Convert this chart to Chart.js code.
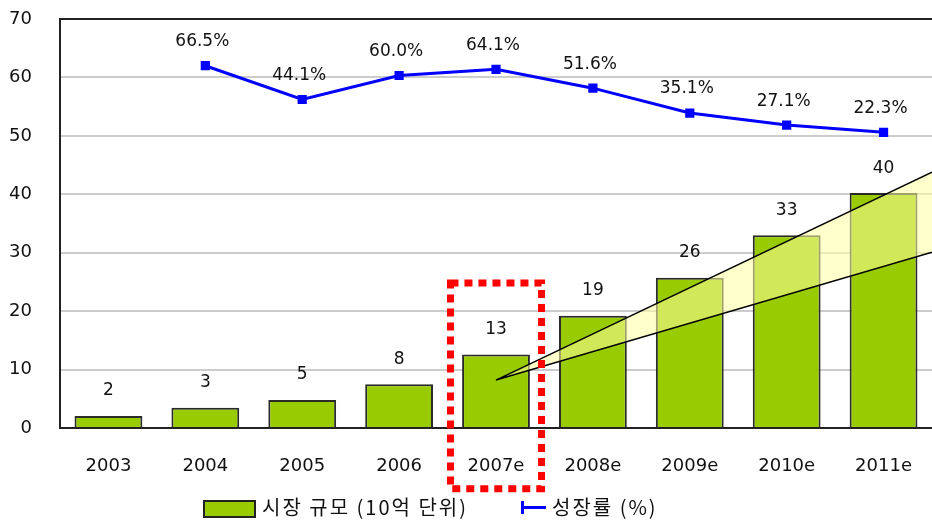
<!DOCTYPE html>
<html>
<head>
<meta charset="utf-8">
<script src="https://cdn.jsdelivr.net/npm/chart.js@4/dist/chart.umd.min.js"></script>
<style>
  html, body { margin: 0; padding: 0; background: #ffffff; }
  #wrap { position: relative; width: 932px; height: 521px; overflow: hidden; background: #fff; }
  #c { position: absolute; left: 0; top: 0; }
  .lg { position: absolute; font-family: "Noto Sans CJK KR", "DejaVu Sans", sans-serif; font-size: 20px; color: #111; white-space: nowrap; line-height: 1; letter-spacing: 2px; }
  #box1 { position: absolute; left: 203px; top: 500px; width: 49px; height: 14px; background: #99cc00; border: 2px solid #222; }
  #ln2 { position: absolute; left: 523px; top: 506px; width: 23px; height: 3px; background: #0000ff; }
  #tk2 { position: absolute; left: 521px; top: 501px; width: 3px; height: 13px; background: #0000ff; }
</style>
</head>
<body>
<div id="wrap">
  <canvas id="c" width="932" height="521"></canvas>
  <div id="box1"></div>
  <div class="lg" style="left:262px; top:497px;">시장 규모 (10억 단위)</div>
  <div id="tk2"></div><div id="ln2"></div>
  <div class="lg" style="left:552px; top:497px;">성장률 (%)</div>
</div>
<script>
const categories = ["2003", "2004", "2005", "2006", "2007e", "2008e", "2009e", "2010e", "2011e"];
const marketSize = [2.05, 3.45, 4.8, 7.5, 12.6, 19.2, 25.7, 33.0, 40.2];
const marketLabels = ["2", "3", "5", "8", "13", "19", "26", "33", "40"];
const growthRate = [null, 66.5, 44.1, 60.0, 64.1, 51.6, 35.1, 27.1, 22.3];
const growthLabels = ["", "66.5%", "44.1%", "60.0%", "64.1%", "51.6%", "35.1%", "27.1%", "22.3%"];
const yTicks = [0, 10, 20, 30, 40, 50, 60, 70];

// callout geometry expressed in axis values
const highlightIndex = 4;
const calloutApexValue = 8.2;
const calloutUpperValue = 43.8;
const calloutLowerValue = 30.1;
const boxTopValue = 24.8;
const boxBottomValue = -10.4;

const numFont = '"DejaVu Sans", sans-serif';

const overlay = {
  id: 'overlay',
  afterDatasetDraw(chart, args) {
    if (args.index !== 0) return;
    const ctx = chart.ctx;
    const x = chart.scales.x, y = chart.scales.y;
    const ax = x.getPixelForValue(highlightIndex);
    const ay = y.getPixelForValue(calloutApexValue);
    const rx = chart.width;
    const uy = y.getPixelForValue(calloutUpperValue);
    const ly = y.getPixelForValue(calloutLowerValue);
    ctx.save();
    ctx.beginPath();
    ctx.moveTo(ax, ay);
    ctx.lineTo(rx, uy);
    ctx.lineTo(rx, ly);
    ctx.closePath();
    ctx.fillStyle = 'rgba(255,255,160,0.55)';
    ctx.fill();
    ctx.beginPath();
    ctx.moveTo(ax, ay); ctx.lineTo(rx, uy);
    ctx.moveTo(ax, ay); ctx.lineTo(rx, ly);
    ctx.strokeStyle = '#000';
    ctx.lineWidth = 1.5;
    ctx.stroke();
    ctx.restore();
  },
  afterDatasetsDraw(chart) {
    const ctx = chart.ctx;
    ctx.save();
    ctx.fillStyle = '#111';
    ctx.textAlign = 'center';
    ctx.textBaseline = 'middle';
    ctx.font = '17px ' + numFont;
    const bars = chart.getDatasetMeta(0).data;
    bars.forEach((b, i) => {
      ctx.fillText(marketLabels[i], b.x, b.y - 25);
    });
    const pts = chart.getDatasetMeta(1).data;
    pts.forEach((p, i) => {
      if (growthRate[i] == null) return;
      ctx.fillText(growthLabels[i], p.x - 3, p.y - 24);
    });
    ctx.restore();
  },
  afterDraw(chart) {
    const ctx = chart.ctx;
    const x = chart.scales.x, y = chart.scales.y;
    const cx = x.getPixelForValue(highlightIndex);
    const half = (x.getPixelForValue(1) - x.getPixelForValue(0)) * 0.47;
    const top = y.getPixelForValue(boxTopValue);
    const bot = y.getPixelForValue(boxBottomValue);
    ctx.save();
    ctx.strokeStyle = '#ff0000';
    ctx.lineWidth = 7;
    ctx.setLineDash([8, 6]);
    ctx.lineCap = 'butt';
    ctx.strokeRect(cx - half, top, half * 2, bot - top);
    ctx.restore();
  }
};

new Chart(document.getElementById('c'), {
  data: {
    labels: categories,
    datasets: [
      {
        type: 'bar',
        label: '시장 규모 (10억 단위)',
        data: marketSize,
        backgroundColor: '#99cc00',
        borderColor: '#2a2a2a',
        borderWidth: 2,
        barPercentage: 0.7,
        categoryPercentage: 1.0,
        yAxisID: 'y',
        order: 2
      },
      {
        type: 'line',
        label: '성장률 (%)',
        data: growthRate,
        borderColor: '#0000ff',
        backgroundColor: '#0000ff',
        borderWidth: 3,
        pointStyle: 'rect',
        pointRadius: 6.5,
        pointBorderWidth: 0,
        tension: 0,
        yAxisID: 'y2',
        order: 1
      }
    ]
  },
  options: {
    responsive: false,
    animation: false,
    layout: { padding: 0, autoPadding: false },
    plugins: { legend: { display: false }, tooltip: { enabled: false } },
    scales: {
      x: {
        type: 'category',
        offset: true,
        grid: { display: false, drawTicks: false },
        border: { color: '#222', width: 2 },
        ticks: { color: '#111', font: { family: numFont, size: 18 }, padding: 28, maxRotation: 0, autoSkip: false },
        afterFit(s) { s.height = 93; s.paddingLeft = 0; s.paddingRight = 0; }
      },
      y: {
        min: 0, max: 70,
        afterBuildTicks(s) { s.ticks = yTicks.map(v => ({ value: v })); },
        grid: {
          drawTicks: false,
          color: ctx => (ctx.tick && ctx.tick.value === 70) ? '#222' : '#cccccc',
          lineWidth: 2
        },
        border: { color: '#222', width: 2 },
        ticks: { color: '#111', font: { family: numFont, size: 18 }, padding: 28 },
        afterFit(s) { s.width = 60; s.paddingTop = 19; s.paddingBottom = 0; }
      },
      y2: {
        display: false,
        position: 'right',
        min: -173.9, max: 97.5
      }
    }
  },
  plugins: [overlay]
});
</script>
</body>
</html>
